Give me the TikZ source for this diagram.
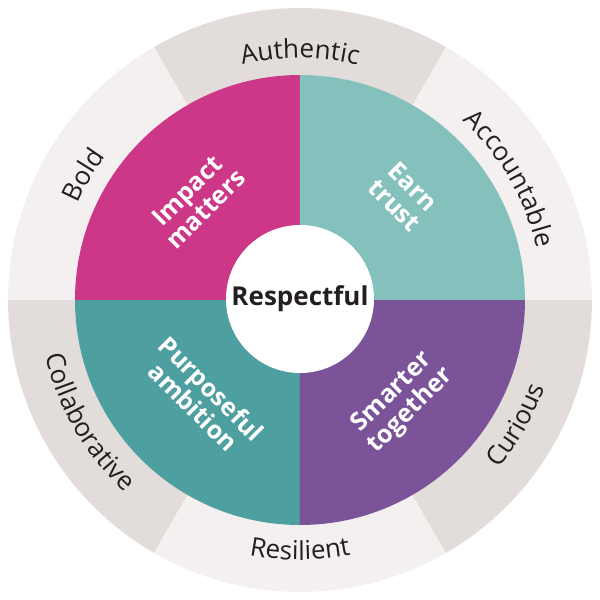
\documentclass[tikz,border=0pt]{standalone}
\usepackage{fontspec}
\setmainfont{Open Sans}
\usetikzlibrary{decorations.text}
\definecolor{ringdark}{HTML}{E2DCDA}
\definecolor{ringlight}{HTML}{F4F0EF}
\definecolor{qmag}{HTML}{CC3788}
\definecolor{qlteal}{HTML}{84C1BC}
\definecolor{qteal}{HTML}{4E9FA0}
\definecolor{qpurple}{HTML}{7A5398}
\definecolor{txt}{HTML}{231F20}
\begin{document}
\begin{tikzpicture}[x=1pt,y=1pt,
  outerlabel/.style={decorate, decoration={text along path, text align=center,
     text={|\fontsize{26}{26}\selectfont\color{txt}|#1}}},
  innerlabel/.style={text=white, font=\fontsize{25}{26}\selectfont\bfseries, align=center, inner sep=0pt}]
\useasboundingbox (-300,-300) rectangle (300,300);
\fill[white] (-300,-300) rectangle (300,300);
% outer ring segments
\fill[ringdark]  (0,0) -- (60:292)  arc (60:120:292)  -- cycle;
\fill[ringlight] (0,0) -- (120:292) arc (120:180:292) -- cycle;
\fill[ringdark]  (0,0) -- (180:292) arc (180:240:292) -- cycle;
\fill[ringlight] (0,0) -- (240:292) arc (240:300:292) -- cycle;
\fill[ringdark]  (0,0) -- (300:292) arc (300:360:292) -- cycle;
\fill[ringlight] (0,0) -- (0:292)   arc (0:60:292)    -- cycle;
% quadrants
\fill[qmag]    (0,0) -- (90:225)  arc (90:180:225)  -- cycle;
\fill[qlteal]  (0,0) -- (0:225)   arc (0:90:225)    -- cycle;
\fill[qteal]   (0,0) -- (180:225) arc (180:270:225) -- cycle;
\fill[qpurple] (0,0) -- (270:225) arc (270:360:225) -- cycle;
% centre
\node[circle, fill=white, minimum size=148pt, inner sep=0pt,
      font=\fontsize{26}{26}\selectfont\bfseries, text=txt] (centre) at (0,1) {Respectful};
% inner labels
\node[innerlabel, rotate=45]  (impact)  at (136:144)  {Impact\\matters};
\node[innerlabel, rotate=-45] (earn)    at (45:147)   {Earn\\trust};
\node[innerlabel, rotate=-45] (purpose) at (-135:138) {Purposeful\\ambition};
\node[innerlabel, rotate=45]  (smarter) at (-45:144)  {Smarter\\together};
% outer labels
\path[outerlabel={Authentic}]     (120:242) arc (120:60:242);
\path[outerlabel={Accountable}]   (60:242)  arc (60:0:242);
\path[outerlabel={Bold}]          (180:242) arc (180:120:242);
\path[outerlabel={Collaborative}] (180:260) arc (180:240:260);
\path[outerlabel={Resilient}]     (240:260) arc (240:300:260);
\path[outerlabel={Curious}]       (300:260) arc (300:360:260);
\end{tikzpicture}
\end{document}
